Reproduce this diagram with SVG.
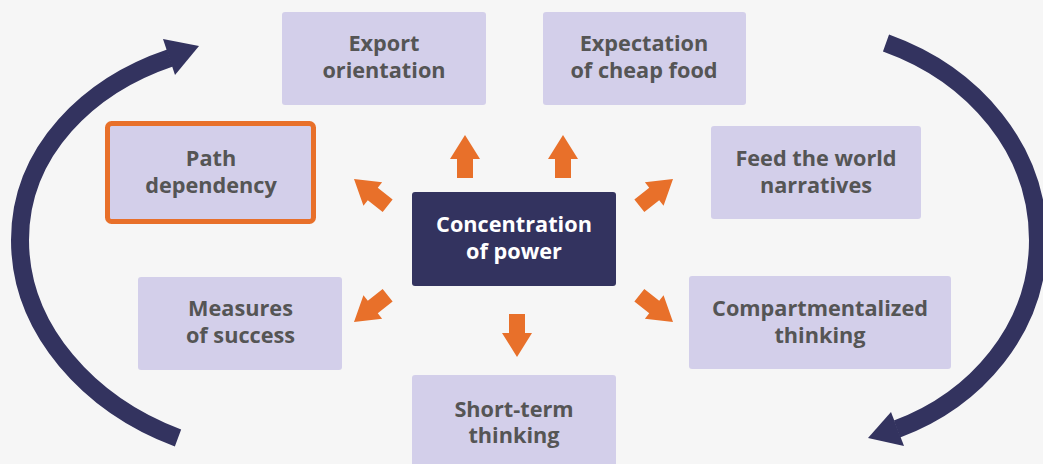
<svg xmlns="http://www.w3.org/2000/svg" width="1043" height="464" viewBox="0 0 1043 464">
  <defs>
    <style>
      .box { fill: #D3CFEA; }
      .lbl { font-family: "Open Sans", "Liberation Sans", sans-serif; font-weight: 700; font-size: 21.7px; fill: #555555; text-anchor: middle; }
      .lblw { fill: #FFFFFF; }
      .oarrow { fill: #E8702A; }
      .loop { fill: none; stroke: #33335F; stroke-width: 18; }
      .loophead { fill: #33335F; }
    </style>
    <path id="oa" d="M0,0 L-24,-15 L-24,-8 L-43,-8 L-43,8 L-24,8 L-24,15 Z"/>
  </defs>
  <rect width="1043" height="464" fill="#F6F6F6"/>

  <g id="connectors">
    <use href="#oa" class="oarrow" transform="translate(465,135) rotate(-90)"/>
    <use href="#oa" class="oarrow" transform="translate(563,135) rotate(-90)"/>
    <use href="#oa" class="oarrow" transform="translate(517,357) rotate(90)"/>
    <use href="#oa" class="oarrow" transform="translate(354,179) rotate(-141.5)"/>
    <use href="#oa" class="oarrow" transform="translate(673,179) rotate(-38.5)"/>
    <use href="#oa" class="oarrow" transform="translate(354,322) rotate(141.5)"/>
    <use href="#oa" class="oarrow" transform="translate(673,322) rotate(38.5)"/>
    <path class="loop" d="M178,438 C90,405 20,330 20,240 C20,150 90,85 170,58"/>
    <polygon class="loophead" points="199,46 163,39 175,75"/>
    <path class="loop" d="M886,43 C975,75 1038,150 1038,240 C1038,330 975,400 897,429"/>
    <polygon class="loophead" points="868,438 891,412 904,446"/>
  </g>

  <g id="node-export">
    <rect class="box" x="282" y="12" width="204" height="93" rx="3"/>
    <text class="lbl" x="384" y="51">Export</text>
    <text class="lbl" x="384" y="78">orientation</text>
  </g>
  <g id="node-expectation">
    <rect class="box" x="543" y="12" width="203" height="93" rx="3"/>
    <text class="lbl" x="644" y="51">Expectation</text>
    <text class="lbl" x="644" y="78">of cheap food</text>
  </g>
  <g id="node-path">
    <rect class="box" x="107.5" y="123.5" width="206" height="98" rx="4" stroke="#E8702A" stroke-width="5"/>
    <text class="lbl" x="211" y="166">Path</text>
    <text class="lbl" x="211" y="193">dependency</text>
  </g>
  <g id="node-feed">
    <rect class="box" x="711" y="126" width="210" height="93" rx="3"/>
    <text class="lbl" x="816" y="166">Feed the world</text>
    <text class="lbl" x="816" y="193">narratives</text>
  </g>
  <g id="node-concentration">
    <rect x="412" y="192" width="204" height="94" rx="3" fill="#33335F"/>
    <text class="lbl lblw" x="514" y="232">Concentration</text>
    <text class="lbl lblw" x="514" y="259">of power</text>
  </g>
  <g id="node-measures">
    <rect class="box" x="138" y="277" width="204" height="93" rx="3"/>
    <text class="lbl" x="240.5" y="316">Measures</text>
    <text class="lbl" x="240.5" y="343">of success</text>
  </g>
  <g id="node-compartmentalized">
    <rect class="box" x="689" y="276" width="262" height="93" rx="3"/>
    <text class="lbl" x="820" y="316">Compartmentalized</text>
    <text class="lbl" x="820" y="343">thinking</text>
  </g>
  <g id="node-shortterm">
    <rect class="box" x="412" y="375" width="204" height="100" rx="3"/>
    <text class="lbl" x="514" y="417">Short-term</text>
    <text class="lbl" x="514" y="443">thinking</text>
  </g>
</svg>
